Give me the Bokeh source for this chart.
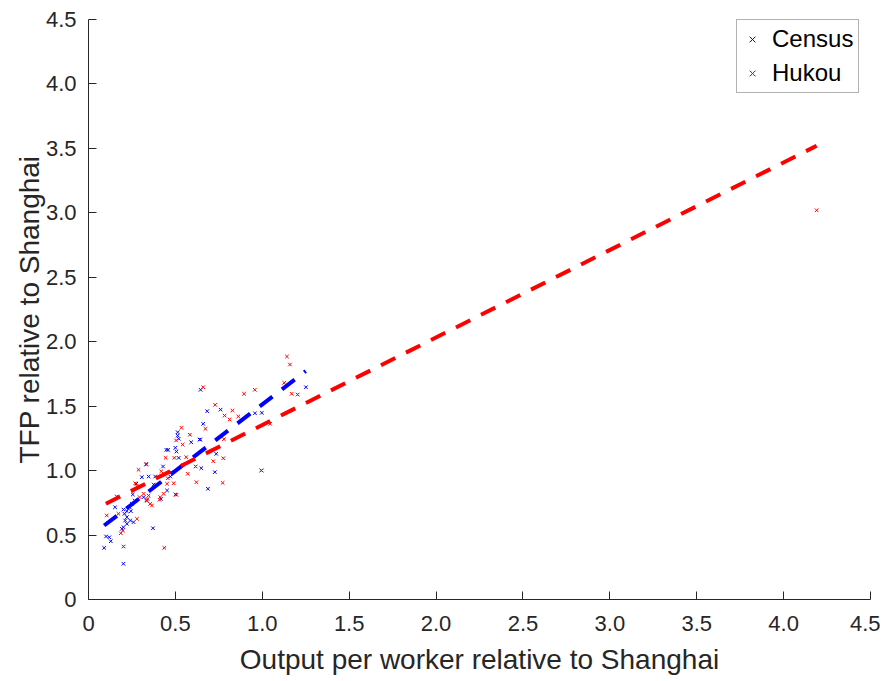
from bokeh.plotting import figure
from bokeh.models import FixedTicker, Legend, LegendItem, Range1d
from bokeh.embed import file_html
from bokeh.resources import INLINE

# Census (blue) scatter
census_x = [0.645, 0.683, 0.660, 0.513, 0.513, 0.519, 0.591, 0.458, 0.448, 0.500,
            0.506, 0.519, 0.639, 0.649, 0.429, 0.477, 0.471, 0.452, 0.500, 0.687,
            0.332, 0.307, 0.346, 0.384, 0.275, 0.375, 0.255, 0.265, 0.250, 0.236,
            0.317, 0.336, 0.417, 0.163, 0.153, 0.201, 0.221, 0.207, 0.221, 0.211,
            0.240, 0.259, 0.221, 0.201, 0.192, 0.244, 0.101, 0.120, 0.128, 0.090,
            0.201, 0.371, 1.251, 0.760, 0.958, 0.997, 0.735, 0.727, 0.995]
census_y = [1.627, 1.461, 1.363, 1.298, 1.272, 1.247, 1.220, 1.161, 1.161, 1.177,
            1.148, 1.099, 1.241, 1.019, 1.032, 0.988, 0.954, 0.846, 0.815, 0.859,
            1.047, 0.949, 0.954, 0.954, 0.898, 0.892, 0.815, 0.768, 0.742, 0.716,
            0.794, 0.768, 0.781, 0.799, 0.716, 0.698, 0.685, 0.665, 0.639, 0.613,
            0.613, 0.600, 0.587, 0.561, 0.548, 0.685, 0.489, 0.483, 0.452, 0.401,
            0.277, 0.553, 1.647, 1.473, 1.445, 1.448, 1.130, 0.988, 1.001]

# Hukou (red) scatter
hukou_x = [0.660, 0.673, 0.535, 0.504, 0.583, 0.542, 0.494, 0.444, 0.562, 0.616,
           0.571, 0.419, 0.456, 0.452, 0.490, 0.432, 0.413, 0.621, 0.332, 0.288,
           0.269, 0.279, 0.294, 0.317, 0.346, 0.332, 0.355, 0.365, 0.409, 0.506,
           0.172, 0.105, 0.279, 0.186, 0.198, 0.201, 0.436, 0.340, 1.142, 1.159,
           1.126, 1.169, 1.203, 0.895, 0.957, 0.729, 0.828, 0.783, 0.812, 0.862,
           1.045, 0.645, 0.779, 0.718, 0.776, 0.772, 0.995, 4.190]
hukou_y = [1.647, 1.324, 1.332, 1.234, 1.278, 1.202, 1.099, 1.099, 1.104, 1.032,
           0.975, 0.995, 0.941, 0.898, 0.902, 0.820, 0.794, 0.910, 1.053, 1.006,
           0.902, 0.877, 0.794, 0.820, 0.807, 0.768, 0.742, 0.729, 0.773, 0.812,
           0.665, 0.652, 0.626, 0.514, 0.535, 0.411, 0.401, 0.780, 1.885, 1.823,
           1.681, 1.596, 1.590, 1.596, 1.627, 1.510, 1.466, 1.427, 1.396, 1.420,
           1.363, 1.241, 1.244, 1.073, 1.096, 0.905, 1.001, 3.020]

# Fitted lines (endpoints)
census_fit_x = [0.09, 1.25]
census_fit_y = [0.574, 1.772]
hukou_fit_x = [0.10, 4.19]
hukou_fit_y = [0.743, 3.520]

ticks = [0, 0.5, 1.0, 1.5, 2.0, 2.5, 3.0, 3.5, 4.0, 4.5]
tick_labels = ["0", "0.5", "1.0", "1.5", "2.0", "2.5", "3.0", "3.5", "4.0", "4.5"]

FONT = "Liberation Sans"
AX = "#262626"

p = figure(width=880, height=677, output_backend="svg", toolbar_location=None,
           x_range=Range1d(0, 4.5), y_range=Range1d(0, 4.5),
           min_border_left=88, min_border_right=10, min_border_top=19, min_border_bottom=78)
p.outline_line_color = None
p.xgrid.visible = False
p.ygrid.visible = False

overrides = {t: l for t, l in zip(ticks, tick_labels)}
for ax in (p.xaxis[0], p.yaxis[0]):
    ax.ticker = FixedTicker(ticks=ticks)
    ax.major_label_overrides = overrides
    ax.minor_tick_line_color = None
    ax.major_tick_in = 8
    ax.major_tick_out = 0
    ax.axis_line_color = AX
    ax.major_tick_line_color = AX
    ax.major_label_text_color = AX
    ax.major_label_text_font = FONT
    ax.major_label_text_font_size = "22px"
    ax.axis_label_text_font = FONT
    ax.axis_label_text_font_style = "normal"
    ax.axis_label_text_color = AX
    ax.axis_label_text_font_size = "28px"

p.xaxis.axis_label = "Output per worker relative to Shanghai"
p.yaxis.axis_label = "TFP relative to Shanghai"
p.xaxis.major_label_standoff = 16
p.yaxis.major_label_standoff = 12
p.xaxis.axis_label_standoff = 10
p.yaxis.axis_label_standoff = -2

rc = p.scatter(census_x, census_y, marker="x", size=5, line_color="#0000FF", line_width=1)
rh = p.scatter(hukou_x, hukou_y, marker="x", size=5, line_color="#FF0000", line_width=1)

p.line(census_fit_x, census_fit_y, line_color="#0000FF", line_width=4, line_dash="16 12")
p.line(hukou_fit_x, hukou_fit_y, line_color="#FF0000", line_width=4, line_dash="16 12")

legend = Legend(items=[LegendItem(label="Census", renderers=[rc]),
                       LegendItem(label="Hukou", renderers=[rh])],
                location=(648, 506))
legend.label_text_font = FONT
legend.label_text_font_size = "24px"
legend.label_text_color = "#000000"
legend.border_line_color = "#666666"
legend.border_line_width = 1
legend.glyph_width = 20
legend.glyph_height = 24
legend.spacing = 6
legend.padding = 5
legend.margin = 0
legend.label_standoff = 10
legend.background_fill_color = "white"
p.add_layout(legend)

open("out.html", "w").write(file_html(p, INLINE))
